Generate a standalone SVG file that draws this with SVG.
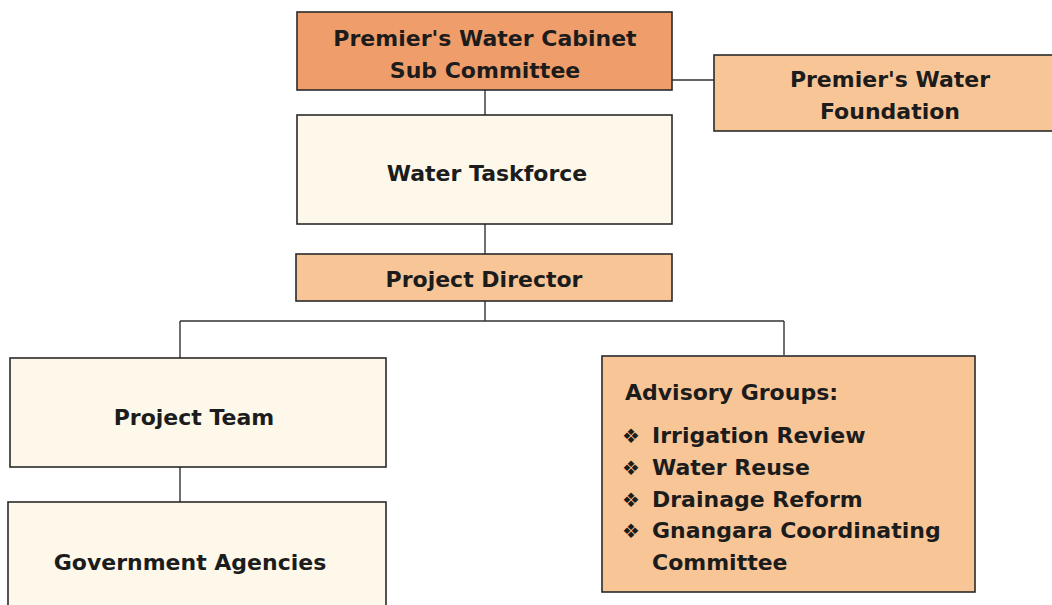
<svg xmlns="http://www.w3.org/2000/svg" width="1052" height="605" viewBox="0 0 1052 605">
<style>
.box{stroke:#2a2a2a;stroke-width:1.6}
.dark{fill:#EF9E6B}
.mid{fill:#F8C597}
.light{fill:#FDF8E9}
.t{font-family:"DejaVu Sans","Liberation Sans",sans-serif;font-weight:bold;font-size:22px;fill:#1c1c1c}
.c{text-anchor:middle}
.b{font-family:"DejaVu Sans",sans-serif;font-size:20px;fill:#1c1c1c}
.ln{stroke:#333;stroke-width:1.4;fill:none}
</style>
<rect width="1052" height="605" fill="#fff"/>
<g id="connectors">
<path class="ln" d="M485 90V115M672 80H714M485 224V254M485 301V321M180 321H784M180 321V358M784 321V355M180 467V502"/>
</g>
<g id="cabinet">
<rect class="box dark" x="297" y="12" width="375" height="78"/>
<text class="t c" x="485" y="46">Premier's Water Cabinet</text>
<text class="t c" x="485" y="78">Sub Committee</text>
</g>
<g id="foundation">
<rect class="box mid" x="714" y="55" width="345" height="76"/>
<text class="t c" x="890" y="87">Premier's Water</text>
<text class="t c" x="890" y="119">Foundation</text>
</g>
<g id="taskforce">
<rect class="box light" x="297" y="115" width="375" height="109"/>
<text class="t c" x="487" y="181">Water Taskforce</text>
</g>
<g id="director">
<rect class="box mid" x="296" y="254" width="376" height="47"/>
<text class="t c" x="484" y="287">Project Director</text>
</g>
<g id="team">
<rect class="box light" x="10" y="358" width="376" height="109"/>
<text class="t c" x="194" y="425">Project Team</text>
</g>
<g id="agencies">
<rect class="box light" x="8" y="502" width="378" height="110"/>
<text class="t c" x="190" y="570">Government Agencies</text>
</g>
<g id="advisory">
<rect class="box mid" x="602" y="356" width="373" height="236"/>
<text class="t" x="625" y="400">Advisory Groups:</text>
<text class="b" x="622" y="443">❖</text><text class="t" x="652" y="443">Irrigation Review</text>
<text class="b" x="622" y="475">❖</text><text class="t" x="652" y="475">Water Reuse</text>
<text class="b" x="622" y="507">❖</text><text class="t" x="652" y="507">Drainage Reform</text>
<text class="b" x="622" y="538">❖</text><text class="t" x="652" y="538">Gnangara Coordinating</text>
<text class="t" x="652" y="570">Committee</text>
</g>
</svg>
